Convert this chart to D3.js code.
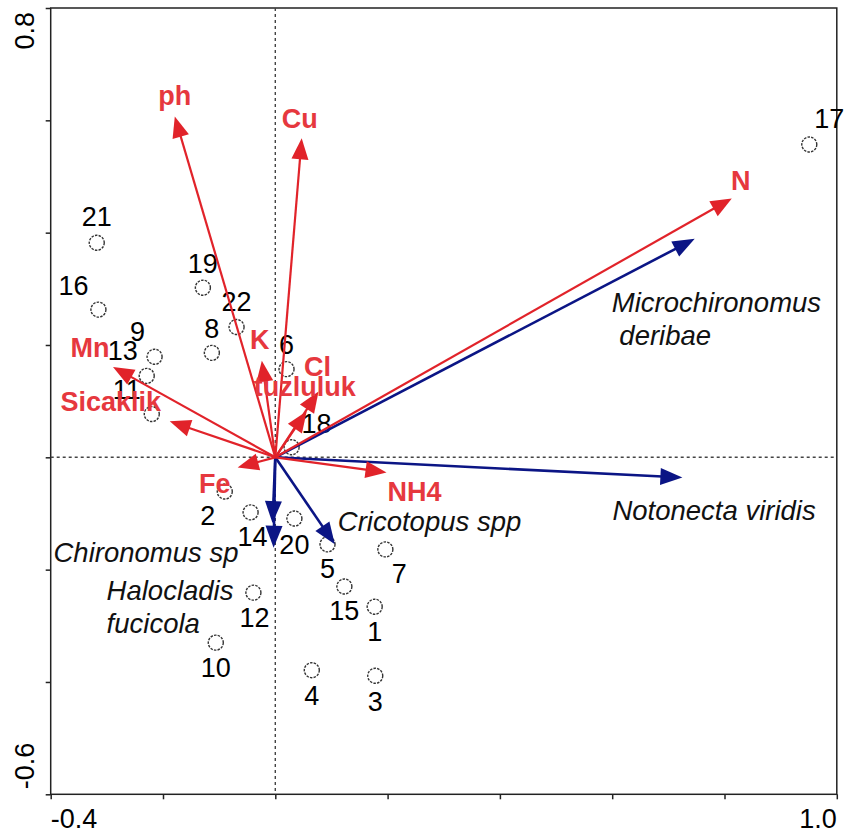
<!DOCTYPE html>
<html>
<head>
<meta charset="utf-8">
<script src="https://cdn.jsdelivr.net/npm/d3@7"></script>
<style>
  body { margin: 0; background: #fff; }
  text { font-family: "Liberation Sans", Arial, sans-serif; }
</style>
</head>
<body>
<div id="graph"></div>
<script>
// sites (samples) 1..22
var siteNames = ["1","2","3","4","5","6","7","8","9","10","11","12","13","14","15","16","17","18","19","20","21","22"];
var siteX = [0.177, -0.090, 0.178, 0.065, 0.093, 0.020, 0.196, -0.113, -0.215, -0.106, -0.220,
             -0.039, -0.229, -0.044, 0.123, -0.315, 0.951, 0.029, -0.129, 0.034, -0.318, -0.069];
var siteY = [-0.266, -0.061, -0.389, -0.379, -0.155, 0.157, -0.164, 0.186, 0.179, -0.330, 0.077,
             -0.241, 0.145, -0.098, -0.230, 0.263, 0.557, 0.018, 0.302, -0.109, 0.382, 0.232];

// environmental variables (red arrows)
var envNames = ["ph", "Cu", "N", "K", "Cl", "tuzluluk", "Mn", "Sicaklik", "Fe", "NH4"];
var envX = [-0.179, 0.047, 0.813, -0.024, 0.077, 0.056, -0.289, -0.188, -0.067, 0.198];
var envY = [0.607, 0.568, 0.461, 0.172, 0.117, 0.082, 0.161, 0.064, -0.018, -0.027];

// species (blue arrows)
var spNames = [["Microchironomus", " deribae"], ["Notonecta viridis"], ["Cricotopus spp"], ["Chironomus sp"], ["Halocladis", "fucicola"]];
var spX = [0.747, 0.725, 0.106, -0.005, -0.003];
var spY = [0.389, -0.036, -0.155, -0.117, -0.161];

var xTicks = [-0.4, -0.2, 0, 0.2, 0.4, 0.6, 0.8, 1.0];
var yTicks = [-0.6, -0.4, -0.2, 0, 0.2, 0.4, 0.6, 0.8];

// label placement (pixels)
var siteLab = {
  "1": [0, 25], "2": [-17, 24], "3": [0, 25], "4": [0, 25], "5": [0, 24], "6": [0, -25],
  "7": [14, 24], "8": [0, -25], "9": [-17, -26], "10": [0, 25], "11": [-25, -25], "12": [1, 25],
  "13": [-24, -26], "14": [2, 24], "15": [0, 24], "16": [-25, -24], "17": [20, -26], "18": [25, -24],
  "19": [0, -24], "20": [0, 26], "21": [0, -26], "22": [0, -26]
};
var envLab = {
  "ph": [0, -11], "Cu": [-2, -10], "N": [9, -8], "K": [-2, -12], "Cl": [-1, -16],
  "tuzluluk": [-2, -15], "Mn": [-23, -10], "Sicaklik": [-59, -10], "Fe": [-23, 26], "NH4": [28, 29]
};
var spLab = [[-83, 73], [-70, 42], [3, -13], [-219, 39], [-167, 52]];

var red = "#e1232a", redText = "#e6383e", blue = "#0b1585";
var fmt = function(v) { return d3.format(".1f")(v).replace("\u2212", "-"); };

var svg = d3.select("#graph").append("svg")
    .attr("width", 846)
    .attr("height", 836);

var x = d3.scaleLinear().domain([-0.4, 1.0]).range([50.7, 836.8]),
    y = d3.scaleLinear().domain([-0.6, 0.8]).range([794.3, 8]);

// frame
svg.append("rect")
    .attr("x", x(-0.4)).attr("y", y(0.8))
    .attr("width", x(1.0) - x(-0.4)).attr("height", y(-0.6) - y(0.8))
    .attr("fill", "none").attr("stroke", "#222").attr("stroke-width", 1.5);

svg.append("g")
    .attr("transform", "translate(0," + y(-0.6) + ")")
    .call(d3.axisBottom(x).tickValues(xTicks).tickSize(5).tickSizeOuter(0).tickFormat(""));
svg.append("g")
    .attr("transform", "translate(" + x(-0.4) + ",0)")
    .call(d3.axisLeft(y).tickValues(yTicks).tickSize(5).tickSizeOuter(0).tickFormat(""));
svg.selectAll(".domain").remove();
svg.selectAll(".tick line").attr("stroke", "#222").attr("stroke-width", 1.5);

// end labels only
svg.append("text").attr("x", x(-0.4)).attr("y", 828).attr("font-size", 27).text(fmt(xTicks[0]));
svg.append("text").attr("x", x(1.0)).attr("y", 828).attr("text-anchor", "end").attr("font-size", 27).text(fmt(xTicks[xTicks.length - 1]));
svg.append("text").attr("transform", "translate(34," + (y(-0.6) - 5) + ") rotate(-90)")
    .attr("font-size", 27).text(fmt(yTicks[0]));
svg.append("text").attr("transform", "translate(34," + (y(0.8) + 4) + ") rotate(-90)")
    .attr("text-anchor", "end").attr("font-size", 27).text(fmt(yTicks[yTicks.length - 1]));

// zero lines
svg.append("line")
    .attr("x1", x(0)).attr("x2", x(0)).attr("y1", y(0.8)).attr("y2", y(-0.6))
    .attr("stroke", "#444").attr("stroke-width", 1.4).attr("stroke-dasharray", "3,3");
svg.append("line")
    .attr("x1", x(-0.4)).attr("x2", x(1.0)).attr("y1", y(0)).attr("y2", y(0))
    .attr("stroke", "#444").attr("stroke-width", 1.4).attr("stroke-dasharray", "3,3");

// sites
svg.selectAll(".site")
    .data(siteNames)
    .enter().append("circle")
    .attr("class", "site")
    .attr("cx", function(d, i) { return x(siteX[i]); })
    .attr("cy", function(d, i) { return y(siteY[i]); })
    .attr("r", 7.5)
    .attr("fill", "none")
    .attr("stroke", "#333")
    .attr("stroke-width", 1.4)
    .attr("stroke-dasharray", "2.5,1.2");

svg.selectAll(".sitelab")
    .data(siteNames)
    .enter().append("text")
    .attr("class", "sitelab")
    .attr("x", function(d, i) { return x(siteX[i]) + siteLab[d][0]; })
    .attr("y", function(d, i) { return y(siteY[i]) + siteLab[d][1]; })
    .attr("text-anchor", "middle")
    .attr("dy", "0.36em")
    .attr("font-size", 27)
    .attr("fill", "#000")
    .text(function(d) { return d; });

function arrow(g, x1, y1, color, lw, hl, hw) {
  var x0 = x(0), y0 = y(0),
      px = x(x1), py = y(y1),
      dx = px - x0, dy = py - y0,
      len = Math.sqrt(dx * dx + dy * dy),
      ux = dx / len, uy = dy / len,
      bx = px - ux * hl, by = py - uy * hl;
  g.append("line")
      .attr("x1", x0).attr("y1", y0).attr("x2", bx + ux * 2).attr("y2", by + uy * 2)
      .attr("stroke", color).attr("stroke-width", lw);
  g.append("path")
      .attr("d", "M" + px + "," + py +
                 "L" + (bx - uy * hw) + "," + (by + ux * hw) +
                 "L" + (bx + uy * hw) + "," + (by - ux * hw) + "Z")
      .attr("fill", color);
}

var gSp = svg.append("g");
spX.forEach(function(v, i) { arrow(gSp, v, spY[i], blue, 2.6, 22, 8.5); });

var gEnv = svg.append("g");
envX.forEach(function(v, i) { arrow(gEnv, v, envY[i], red, 2.2, 21, 8.5); });

// species labels
spNames.forEach(function(lines, i) {
  var t = svg.append("text")
      .attr("x", x(spX[i]) + spLab[i][0])
      .attr("y", y(spY[i]) + spLab[i][1])
      .attr("font-size", 27.5)
      .attr("font-style", "italic")
      .attr("fill", "#111");
  lines.forEach(function(s, j) {
    t.append("tspan")
        .attr("x", x(spX[i]) + spLab[i][0])
        .attr("dy", j === 0 ? 0 : 33)
        .attr("xml:space", "preserve")
        .text(s);
  });
});

// environmental labels
svg.selectAll(".envlab")
    .data(envNames)
    .enter().append("text")
    .attr("class", "envlab")
    .attr("x", function(d, i) { return x(envX[i]) + envLab[d][0]; })
    .attr("y", function(d, i) { return y(envY[i]) + envLab[d][1]; })
    .attr("text-anchor", "middle")
    .attr("font-size", 27)
    .attr("font-weight", "bold")
    .attr("fill", redText)
    .text(function(d) { return d; });
</script>
</body>
</html>
